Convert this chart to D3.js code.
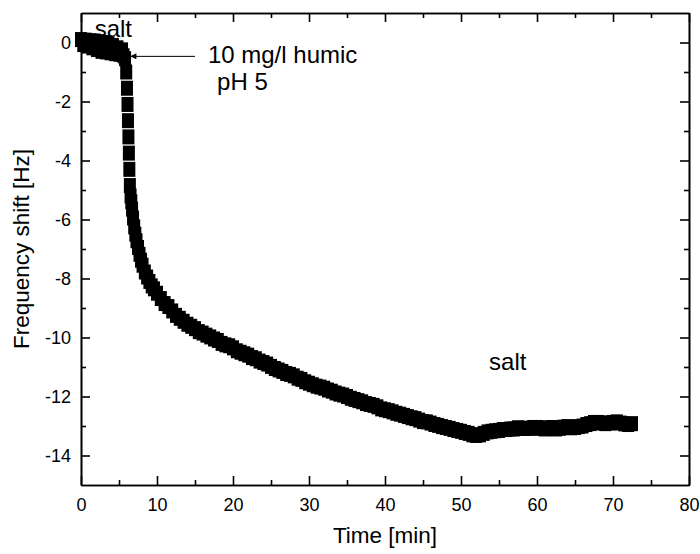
<!DOCTYPE html>
<html>
<head>
<meta charset="utf-8">
<script src="https://cdn.jsdelivr.net/npm/d3@7"></script>
<style>
  body { margin: 0; background: #fff; }
  svg { font-family: "Liberation Sans", Arial, sans-serif; }
  .axis path, .axis line { stroke: #000; stroke-width: 1.6; }
  .axis text { font-size: 18px; fill: #000; }
</style>
</head>
<body>
<div id="chart"></div>
<script>
// Time [min] and frequency shift [Hz]
const timeMin = [
  0, 0.3, 0.6, 0.9, 1.2, 1.5, 1.8, 2.1, 2.4, 2.7, 3.0, 3.3, 3.6, 3.9, 4.2, 4.5, 4.8, 5.1, 5.4, 5.6,
  5.8, 5.95, 6.05, 6.12, 6.18, 6.24, 6.3, 6.36, 6.43, 6.52, 6.62, 6.72, 6.85, 7.0, 7.15, 7.3, 7.5,
  7.7, 7.9, 8.1, 8.4, 8.7, 9.0, 9.3, 9.6, 10.0,
  10.5, 11, 11.5, 12, 12.5, 13, 13.5, 14, 14.5, 15, 15.5, 16, 16.5, 17, 17.5, 18, 18.5, 19, 19.5, 20,
  20.5, 21, 21.5, 22, 22.5, 23, 23.5, 24, 24.5, 25, 25.5, 26, 26.5, 27, 27.5, 28, 28.5, 29, 29.5, 30,
  30.5, 31, 31.5, 32, 32.5, 33, 33.5, 34, 34.5, 35, 35.5, 36, 36.5, 37, 37.5, 38, 38.5, 39, 39.5, 40,
  40.5, 41, 41.5, 42, 42.5, 43, 43.5, 44, 44.5, 45, 45.5, 46, 46.5, 47, 47.5, 48, 48.5, 49, 49.5, 50,
  50.5, 51, 51.5, 52, 52.5, 53, 53.5, 54, 54.5, 55, 55.5, 56, 56.5, 57, 57.5, 58, 58.5, 59, 59.5, 60,
  60.5, 61, 61.5, 62, 62.5, 63, 63.5, 64, 64.5, 65, 65.5, 66, 66.5, 67, 67.5, 68, 68.5, 69, 69.5, 70,
  70.5, 71, 71.5, 72, 72.5
];
const freqShift = [
  0.1, -0.07, 0.08, -0.12, 0.06, -0.18, 0.05, -0.24, 0.03, -0.3, 0.0, -0.32, -0.05, -0.35, -0.1, -0.38, -0.18, -0.4, -0.25, -0.45,
  -0.55, -1.0, -1.55, -2.1, -2.65, -3.2, -3.75, -4.3, -4.85, -5.2, -5.4, -5.65, -5.95, -6.25, -6.5, -6.72, -6.95,
  -7.18, -7.38, -7.55, -7.78, -7.95, -8.1, -8.25, -8.35, -8.5,
  -8.68, -8.85, -8.95, -9.1, -9.25, -9.35, -9.45, -9.55, -9.62, -9.7, -9.8, -9.85, -9.92, -9.98, -10.05, -10.1, -10.2, -10.25, -10.28, -10.35,
  -10.45, -10.5, -10.55, -10.6, -10.68, -10.72, -10.8, -10.85, -10.9, -10.98, -11.05, -11.1, -11.15, -11.22, -11.25, -11.3, -11.38, -11.42, -11.5, -11.55,
  -11.6, -11.65, -11.68, -11.72, -11.78, -11.82, -11.88, -11.92, -11.95, -12.0, -12.06, -12.1, -12.14, -12.18, -12.24, -12.27, -12.3, -12.35, -12.42, -12.45,
  -12.48, -12.52, -12.57, -12.6, -12.64, -12.68, -12.72, -12.75, -12.8, -12.85, -12.86, -12.9, -12.95, -12.98, -13.02, -13.05, -13.08, -13.12, -13.15, -13.18,
  -13.22, -13.25, -13.3, -13.32, -13.3, -13.25, -13.2, -13.18, -13.16, -13.15, -13.12, -13.12, -13.1, -13.1, -13.06, -13.08, -13.08, -13.08, -13.05, -13.05,
  -13.08, -13.1, -13.06, -13.05, -13.1, -13.08, -13.04, -13.02, -13.06, -13.05, -13.02, -13.0, -12.95, -12.92, -12.88, -12.88, -12.9, -12.92, -12.9, -12.88,
  -12.86, -12.9, -12.93, -12.95, -12.92
];

const xTicks = [0, 10, 20, 30, 40, 50, 60, 70, 80];
const xMinor = [5, 15, 25, 35, 45, 55, 65, 75];
const yTicks = [0, -2, -4, -6, -8, -10, -12, -14];
const yMinor = [-1, -3, -5, -7, -9, -11, -13];

const data = timeMin.map((t, i) => ({ t: t, f: freqShift[i] }));

const margin = { top: 13, right: 11, bottom: 69, left: 81 };
const width = 700 - margin.left - margin.right;
const height = 554 - margin.top - margin.bottom;

const svgRoot = d3.select("#chart")
    .append("svg")
    .attr("width", 700)
    .attr("height", 554);

const svg = svgRoot.append("g")
    .attr("transform", `translate(${margin.left}, ${margin.top})`);

const xScale = d3.scaleLinear().domain([0, 80]).range([0, width]);
const yScale = d3.scaleLinear().domain([-15, 1]).range([height, 0]);

// Data: thick square markers
const markW = 12, markH = 15;
svg.selectAll(".pt")
    .data(data)
    .enter()
    .append("rect")
    .attr("class", "pt")
    .attr("x", d => xScale(d.t) - markW / 2)
    .attr("y", d => yScale(d.f) - markH / 2)
    .attr("width", markW)
    .attr("height", markH)
    .style("fill", "#000");

// Axes on all four sides, ticks pointing inward
function addAxis(axis, transform, noLabels) {
    const g = svg.append("g").attr("class", "axis").attr("transform", transform).call(axis);
    if (noLabels) g.selectAll("text").remove();
    return g;
}

const plain = d => String(d); // keep the plain hyphen like the original

addAxis(d3.axisBottom(xScale).tickValues(xTicks).tickSizeInner(-9).tickSizeOuter(0).tickPadding(13).tickFormat(plain),
    `translate(0, ${height})`);
addAxis(d3.axisBottom(xScale).tickValues(xMinor).tickSizeInner(-5).tickSizeOuter(0),
    `translate(0, ${height})`, true);
addAxis(d3.axisTop(xScale).tickValues(xTicks).tickSizeInner(-9).tickSizeOuter(0), "translate(0,0)", true);
addAxis(d3.axisTop(xScale).tickValues(xMinor).tickSizeInner(-5).tickSizeOuter(0), "translate(0,0)", true);

addAxis(d3.axisLeft(yScale).tickValues(yTicks).tickSizeInner(-9).tickSizeOuter(0).tickPadding(10).tickFormat(plain),
    "translate(0,0)");
addAxis(d3.axisLeft(yScale).tickValues(yMinor).tickSizeInner(-5).tickSizeOuter(0), "translate(0,0)", true);
addAxis(d3.axisRight(yScale).tickValues(yTicks).tickSizeInner(-9).tickSizeOuter(0), `translate(${width},0)`, true);
addAxis(d3.axisRight(yScale).tickValues(yMinor).tickSizeInner(-5).tickSizeOuter(0), `translate(${width},0)`, true);

// Axis labels
svg.append("text")
    .attr("x", width / 2)
    .attr("y", height + 58)
    .attr("text-anchor", "middle")
    .style("font-size", "22.5px")
    .text("Time [min]");

svg.append("text")
    .attr("transform", "rotate(-90)")
    .attr("x", -yScale(-7))
    .attr("y", -52)
    .attr("text-anchor", "middle")
    .style("font-size", "22.5px")
    .text("Frequency shift [Hz]");

// Annotations
const ann = svg.append("g").style("font-size", "24px");
ann.append("text").attr("x", xScale(1.8)).attr("y", yScale(0.1) - 3).text("salt");
ann.append("text").attr("x", xScale(16.7)).attr("y", yScale(-0.68)).text("10 mg/l humic");
ann.append("text").attr("x", xScale(17.9)).attr("y", yScale(-1.6)).text("pH 5");
ann.append("text").attr("x", xScale(53.7)).attr("y", yScale(-11.1)).text("salt");

// Arrow to the injection point
svgRoot.append("defs").append("marker")
    .attr("id", "arrow")
    .attr("viewBox", "0 0 10 10")
    .attr("refX", 10).attr("refY", 5)
    .attr("markerWidth", 8).attr("markerHeight", 6)
    .attr("orient", "auto")
    .append("path").attr("d", "M0,0 L10,5 L0,10 Z").style("fill", "#000");

svg.append("line")
    .attr("x1", xScale(15)).attr("y1", yScale(-0.47))
    .attr("x2", xScale(6.5)).attr("y2", yScale(-0.47))
    .style("stroke", "#000")
    .style("stroke-width", 1)
    .attr("marker-end", "url(#arrow)");
</script>
</body>
</html>
